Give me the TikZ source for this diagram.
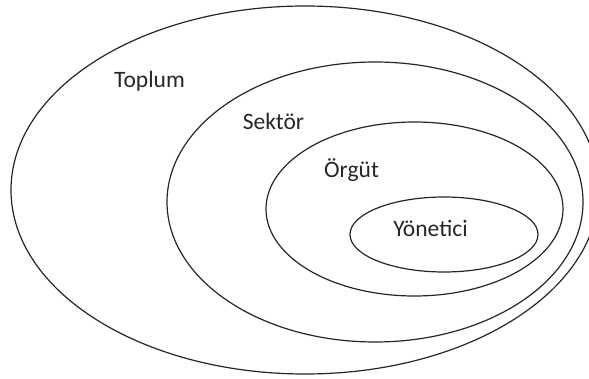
\documentclass[tikz,border=0pt]{standalone}
\usepackage{fontspec}
\setmainfont{Carlito}
\begin{document}
\begin{tikzpicture}[x=1pt,y=-1pt,
  ring/.style={draw=black!85, line width=1.2pt},
  lbl/.style={anchor=base, inner sep=0pt, text=black!85,
    font=\fontsize{23.5}{28}\selectfont}]
  \useasboundingbox (0,0) rectangle (589,379);
  \clip (0,0) rectangle (589,379);
  % centres of the nested sets
  \coordinate (cT) at (305,190);
  \coordinate (cS) at (375,202);
  \coordinate (cO) at (414.5,209);
  \coordinate (cY) at (444,234.5);
  % nested ellipses
  \draw[ring] (cT) ellipse (294 and 184);
  \draw[ring] (cS) ellipse (208 and 140);
  \draw[ring] (cO) ellipse (148.5 and 87);
  \draw[ring] (cY) ellipse (94 and 37.5);
  % labels
  \node[lbl] (toplum) at (149.5,88) {Toplum};
  \node[lbl] (sektor) at (273.5,130) {Sektör};
  \node[lbl] (orgut) at (351.5,178) {Örgüt};
  \node[lbl] (yonetici) at (430.5,237) {Yönetici};
\end{tikzpicture}
\end{document}
